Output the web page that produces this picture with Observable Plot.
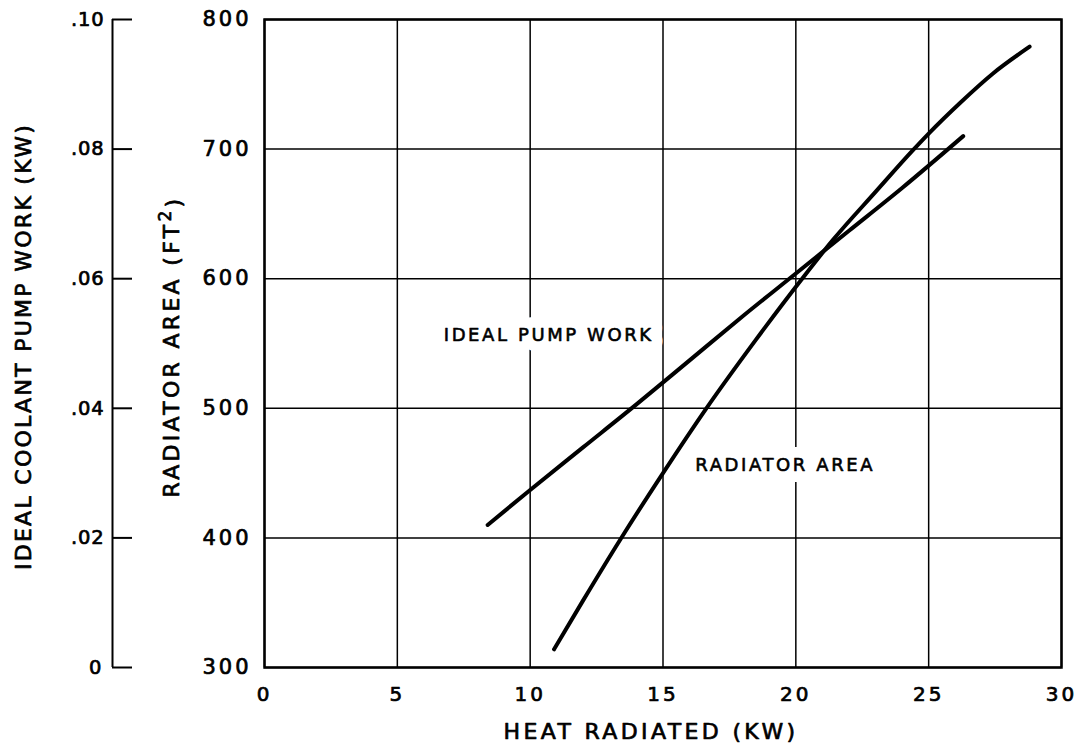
<!DOCTYPE html>
<html><head><meta charset="utf-8">
<script src="https://cdn.jsdelivr.net/npm/d3@7"></script>
<script src="https://cdn.jsdelivr.net/npm/@observablehq/plot@0.6"></script>
<style>
body{margin:0;background:#fff}
</style>
</head><body><div id="chart"></div>
<script>
// Tick values / labels
const heatTicks = [0, 5, 10, 15, 20, 25, 30];
const areaTicks = [300, 400, 500, 600, 700, 800];
const pumpTicks = [0, 0.02, 0.04, 0.06, 0.08, 0.10];
const pumpTickLabels = ["0", ".02", ".04", ".06", ".08", ".10"];

// Radiator area series (heat radiated kW -> ft^2)
const radiatorHeat = [10.9, 12.0, 13.4, 15.0, 16.6, 18.5, 20.2, 21.4, 23.0, 24.4, 25.0, 26.2, 27.4, 28.8];
const radiatorArea = [314, 352, 399, 450, 499, 553, 599, 630, 667, 699, 712, 736, 758, 779];

// Ideal pump work series (heat radiated kW -> pump work kW)
const pumpHeat = [8.4, 10, 12, 14, 16, 18, 20, 22, 24, 26.3];
const pumpWork = [0.022, 0.0274, 0.034, 0.0406, 0.0474, 0.0542, 0.0608, 0.0674, 0.074, 0.082];

// Labels
const xTitle = "HEAT RADIATED (KW)";
const yTitle = "RADIATOR AREA (FT²)";
const y2Title = "IDEAL COOLANT PUMP WORK (KW)";
const annotations = [
  {heat: 10.7, area: 556, label: "IDEAL PUMP WORK"},
  {heat: 19.6, area: 456, label: "RADIATOR AREA"}
];

// secondary (pump work) axis shares the vertical extent of the area axis
const areaMin = areaTicks[0], areaMax = areaTicks[areaTicks.length - 1];
const pumpMax = pumpTicks[pumpTicks.length - 1];
const pumpToArea = v => areaMin + v * (areaMax - areaMin) / pumpMax;
const pumpPos = pumpTicks.map(pumpToArea);

const radiator = radiatorHeat.map((h, i) => ({heat: h, area: radiatorArea[i]}));
const pump = pumpHeat.map((h, i) => ({heat: h, area: pumpToArea(pumpWork[i])}));

const ink = {textStroke: "#000", textStrokeWidth: 0.7};
const titleStyle = {fill: "#000", stroke: "#000", strokeWidth: 0.7, fontSize: 22, textAnchor: "middle", lineAnchor: "middle"};

const chart = Plot.plot({
  width: 1089, height: 744,
  marginLeft: 264, marginRight: 28, marginTop: 19, marginBottom: 77,
  style: {fontFamily: "DejaVu Sans", color: "#000", background: "#fff", overflow: "visible"},
  x: {domain: [0, 30]},
  y: {domain: [areaMin, areaMax]},
  marks: [
    Plot.gridX(heatTicks, {stroke: "#000", strokeOpacity: 1, strokeWidth: 1.5}),
    Plot.gridY(areaTicks, {stroke: "#000", strokeOpacity: 1, strokeWidth: 1.5}),
    Plot.frame({stroke: "#000", strokeWidth: 2.5}),
    Plot.axisX(heatTicks, {tickSize: 0, tickPadding: 19, fontSize: 20, label: null, ...ink}),
    Plot.axisY(areaTicks, {tickSize: 0, tickPadding: 13, fontSize: 21, label: null, ...ink}),
    // pump work axis
    Plot.ruleX([0], {dx: -152, stroke: "#000", strokeWidth: 2}),
    Plot.axisY(pumpPos, {anchor: "left", dx: -132, tickSize: 20, strokeWidth: 2, tickFormat: () => "", label: null}),
    Plot.axisY(pumpPos, {anchor: "left", dx: -152, tickSize: 0, tickPadding: 8, fontSize: 19.5,
      tickFormat: d => pumpTickLabels[pumpPos.indexOf(d)], label: null, ...ink}),
    // titles
    Plot.text([xTitle], {frameAnchor: "bottom", dx: -12, dy: 64, ...titleStyle}),
    Plot.text([yTitle], {frameAnchor: "left", rotate: -90, dx: -93, dy: 3, ...titleStyle}),
    Plot.text([y2Title], {frameAnchor: "left", rotate: -90, dx: -241, dy: 3, ...titleStyle}),
    // curves
    Plot.line(pump, {x: "heat", y: "area", stroke: "#000", strokeWidth: 4, curve: "monotone-x"}),
    Plot.line(radiator, {x: "heat", y: "area", stroke: "#000", strokeWidth: 4, curve: "monotone-x"}),
    // annotations with white halo breaking grid
    Plot.text(annotations, {x: "heat", y: "area", text: "label", fontSize: 18, fill: "#fff", stroke: "#fff", strokeWidth: 22}),
    Plot.text(annotations, {x: "heat", y: "area", text: "label", fontSize: 18, fill: "#000", stroke: "#000", strokeWidth: 0.6})
  ]
});
document.getElementById("chart").appendChild(chart);

// letter spacing per kind of text
const svg = d3.select(chart);
svg.selectAll("text").each(function() {
  const t = d3.select(this), s = t.text();
  if (/^[.0-9]+$/.test(s)) {
    t.style("letter-spacing", s.startsWith(".") ? "0.8px" : "3px");
  } else {
    t.style("letter-spacing", "2.6px");
  }
});
// fit titles to the reference lengths
const targets = new Map([[xTitle, 295], [yTitle, 302], [y2Title, 447]]);
svg.selectAll("text").each(function() {
  const t = d3.select(this), s = t.text();
  if (!targets.has(s)) return;
  if (s === yTitle) {
    t.text(null);
    t.append("tspan").text("RADIATOR AREA (FT");
    t.append("tspan").attr("dy", "-0.45em").attr("font-size", "17").text("2");
    t.append("tspan").attr("dy", "0.45em").text(")");
  }
  t.style("letter-spacing", "0px");
  const L = this.getComputedTextLength();
  t.style("letter-spacing", ((targets.get(s) - L) / s.length).toFixed(2) + "px");
});
</script>
</body></html>
